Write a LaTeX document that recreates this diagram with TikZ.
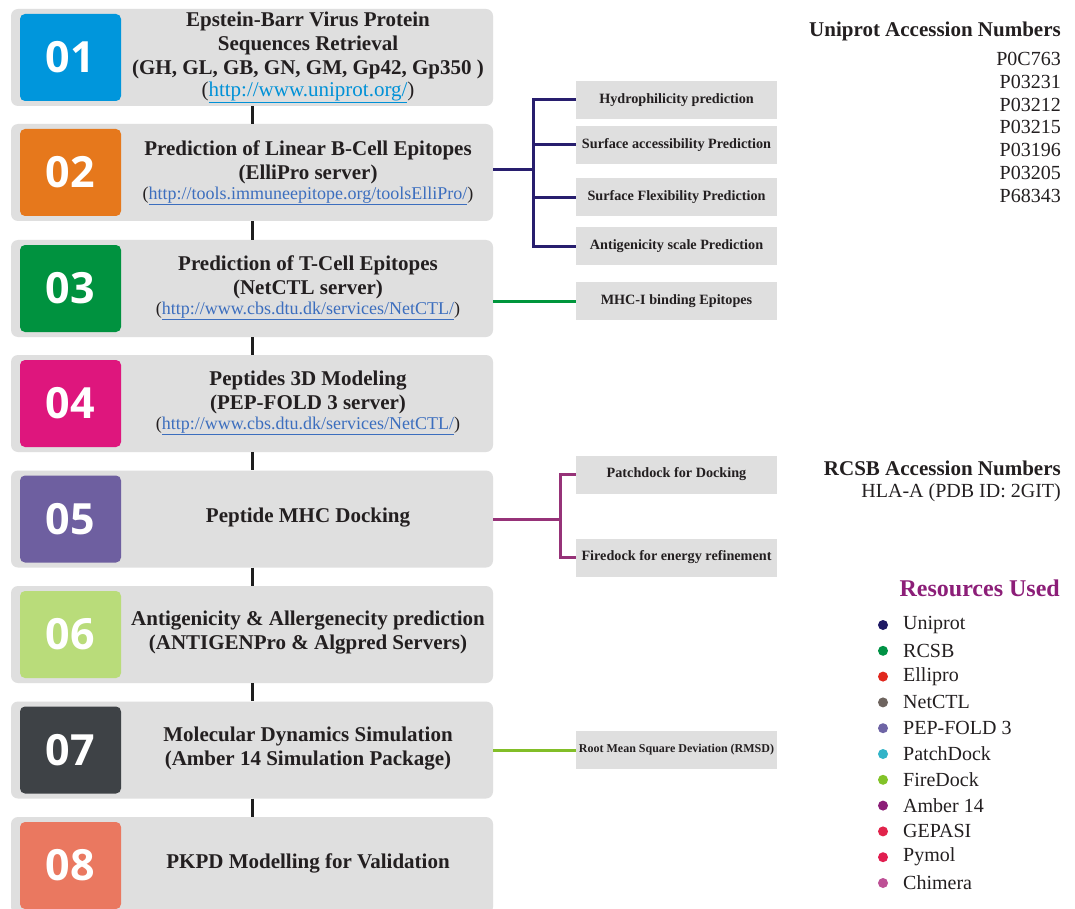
\documentclass[tikz,border=0pt]{standalone}
\usepackage{fontspec}
\setmainfont{Liberation Serif}
\newfontfamily\numfont{Open Sans}
\definecolor{boxgray}{RGB}{223,223,223}
\definecolor{txt}{RGB}{35,31,32}
\definecolor{flowblack}{RGB}{30,30,30}
\definecolor{c1}{RGB}{0,150,220}
\definecolor{c2}{RGB}{230,120,28}
\definecolor{c3}{RGB}{0,146,63}
\definecolor{c4}{RGB}{222,22,125}
\definecolor{c5}{RGB}{110,95,160}
\definecolor{c6}{RGB}{185,220,122}
\definecolor{c7}{RGB}{62,66,70}
\definecolor{c8}{RGB}{234,120,96}
\definecolor{linkA}{RGB}{0,145,215}
\definecolor{linkB}{RGB}{60,110,190}
\definecolor{navyline}{RGB}{40,30,110}
\definecolor{greenline}{RGB}{0,150,60}
\definecolor{purpline}{RGB}{150,50,120}
\definecolor{limeline}{RGB}{130,190,40}
\definecolor{resp}{RGB}{140,30,120}
\definecolor{d1}{RGB}{30,25,100}
\definecolor{d2}{RGB}{0,146,69}
\definecolor{d3}{RGB}{225,40,30}
\definecolor{d4}{RGB}{110,100,95}
\definecolor{d5}{RGB}{110,100,165}
\definecolor{d6}{RGB}{50,180,200}
\definecolor{d7}{RGB}{130,195,40}
\definecolor{d8}{RGB}{140,30,120}
\definecolor{d9}{RGB}{225,35,75}
\definecolor{d10}{RGB}{225,30,80}
\definecolor{d11}{RGB}{190,80,150}
\newcommand\myurl[2]{(\textcolor{#1}{\underline{#2}})}
\begin{document}
\begin{tikzpicture}[x=1pt,y=-1pt,
  mainbox/.style={fill=boxgray, rounded corners=7pt, minimum width=482pt, minimum height=97pt, inner sep=0pt},
  numbox/.style={rounded corners=5pt, minimum width=101pt, minimum height=87pt, inner sep=0pt, text=white, font=\numfont\bfseries\fontsize{43}{43}\selectfont},
  title/.style={align=center, font=\bfseries\fontsize{21}{24}\selectfont, text=txt, inner sep=0pt},
  urltext/.style={font=\fontsize{18}{20}\selectfont, text=txt, inner sep=0pt},
  subbox/.style={fill=boxgray, minimum width=201pt, minimum height=38pt, inner sep=0pt, text=txt, font=\bfseries\fontsize{14.2}{16}\selectfont},
  flow/.style={line width=3pt, draw=flowblack},
  branch/.style={line width=3pt},
  rtext/.style={anchor=east, inner sep=0pt, text=txt, font=\fontsize{20}{22}\selectfont},
  dot/.style={circle, minimum size=10pt, inner sep=0pt},
  legtext/.style={anchor=west, inner sep=0pt, text=txt, font=\fontsize{20}{22}\selectfont}]
\clip (0,0) rectangle (1075,909);
\fill[white] (0,0) rectangle (1075,909);
% main boxes
\node[mainbox] (b1) at (252,57.5) {};
\node[mainbox] (b2) at (252,172.5) {};
\node[mainbox] (b3) at (252,288.5) {};
\node[mainbox] (b4) at (252,403.5) {};
\node[mainbox] (b5) at (252,519) {};
\node[mainbox] (b6) at (252,634.5) {};
\node[mainbox] (b7) at (252,750) {};
\node[mainbox] (b8) at (252,865.5) {};
% number squares
\node[numbox, fill=c1] (n1) at (70.5,57.5) {01};
\node[numbox, fill=c2] (n2) at (70.5,172.5) {02};
\node[numbox, fill=c3] (n3) at (70.5,288.5) {03};
\node[numbox, fill=c4] (n4) at (70.5,403.5) {04};
\node[numbox, fill=c5] (n5) at (70.5,519) {05};
\node[numbox, fill=c6] (n6) at (70.5,634.5) {06};
\node[numbox, fill=c7] (n7) at (70.5,750) {07};
\node[numbox, fill=c8] (n8) at (70.5,865.5) {08};
% titles
\node[title] (t1) at (308,45.5) {Epstein-Barr Virus Protein\\Sequences Retrieval\\(GH, GL, GB, GN, GM, Gp42, Gp350 )};
\node[urltext, font=\fontsize{21}{22}\selectfont] (u1) at (308,92) {\myurl{linkA}{http://www.uniprot.org/}};
\node[title] (t2) at (308,162) {Prediction of Linear B-Cell Epitopes\\(ElliPro server)};
\node[urltext] (u2) at (308,196) {\myurl{linkB}{http://tools.immuneepitope.org/toolsElliPro/}};
\node[title] (t3) at (308,277.5) {Prediction of T-Cell Epitopes\\(NetCTL server)};
\node[urltext] (u3) at (308,311) {\myurl{linkB}{http://www.cbs.dtu.dk/services/NetCTL/}};
\node[title] (t4) at (308,392.5) {Peptides 3D Modeling\\(PEP-FOLD 3 server)};
\node[urltext] (u4) at (308,426) {\myurl{linkB}{http://www.cbs.dtu.dk/services/NetCTL/}};
\node[title] (t5) at (308,518) {Peptide MHC Docking};
\node[title] (t6) at (308,633) {Antigenicity \& Allergenecity prediction\\(ANTIGENPro \& Algpred Servers)};
\node[title] (t7) at (308,749) {Molecular Dynamics Simulation\\(Amber 14 Simulation Package)};
\node[title] (t8) at (308,863) {PKPD Modelling for Validation};
% flow connectors
\draw[flow] (b1.south) -- (b2.north);
\draw[flow] (b2.south) -- (b3.north);
\draw[flow] (b3.south) -- (b4.north);
\draw[flow] (b4.south) -- (b5.north);
\draw[flow] (b5.south) -- (b6.north);
\draw[flow] (b6.south) -- (b7.north);
\draw[flow] (b7.south) -- (b8.north);
% sub boxes
\node[subbox] (s1) at (676.5,100) {Hydrophilicity prediction};
\node[subbox] (s2) at (676.5,145) {Surface accessibility Prediction};
\node[subbox] (s3) at (676.5,197.5) {Surface Flexibility Prediction};
\node[subbox] (s4) at (676.5,246) {Antigenicity scale Prediction};
\node[subbox] (s5) at (676.5,301) {MHC-I binding Epitopes};
\node[subbox] (s6) at (676.5,474.5) {Patchdock for Docking};
\node[subbox] (s7) at (676.5,557.5) {Firedock for energy refinement};
\node[subbox, font=\bfseries\fontsize{12}{14}\selectfont] (s8) at (676.5,750) {Root Mean Square Deviation (RMSD)};
% branches
\coordinate (j2) at (533,170);
\draw[branch, navyline] (j2 -| b2.east) -- (j2);
\draw[branch, navyline] (j2) |- (s1.west);
\draw[branch, navyline] (j2) |- (s2.west);
\draw[branch, navyline] (j2) |- (s3.west);
\draw[branch, navyline] (j2) |- (s4.west);
\draw[branch, greenline] (s5.west -| b3.east) -- (s5.west);
\coordinate (j5) at (560,519);
\draw[branch, purpline] (b5.east) -- (j5);
\draw[branch, purpline] (j5) |- (s6.west);
\draw[branch, purpline] (j5) |- (s7.west);
\draw[branch, limeline] (b7.east) -- (s8.west);
% accession numbers
\node[rtext, font=\bfseries\fontsize{21}{22}\selectfont] (uh) at (1061,31.5) {Uniprot Accession Numbers};
\node[rtext] (p1) at (1061,59) {P0C763};
\node[rtext] (p2) at (1061,81.8) {P03231};
\node[rtext] (p3) at (1061,104.6) {P03212};
\node[rtext] (p4) at (1061,127.4) {P03215};
\node[rtext] (p5) at (1061,150.2) {P03196};
\node[rtext] (p6) at (1061,173) {P03205};
\node[rtext] (p7) at (1061,195.8) {P68343};
\node[rtext, font=\bfseries\fontsize{21}{22}\selectfont] (rh) at (1061,468) {RCSB Accession Numbers};
\node[rtext] (r1) at (1061,493) {HLA-A (PDB ID: 2GIT)};
% resources
\node[rtext, text=resp, font=\bfseries\fontsize{24}{26}\selectfont] (res) at (1060,588) {Resources Used};
\foreach \i/\name [evaluate=\i as \yy using 625+(\i-1)*25.8] in {1/Uniprot,2/RCSB,3/Ellipro,4/NetCTL,5/PEP-FOLD 3,6/PatchDock,7/FireDock,8/Amber 14,9/GEPASI,10/Pymol,11/Chimera}{
  \node[dot, fill=d\i] (dot\i) at (883,\yy) {};
  \node[legtext] (leg\i) at (903,\yy) {\name};
}
\end{tikzpicture}
\end{document}
